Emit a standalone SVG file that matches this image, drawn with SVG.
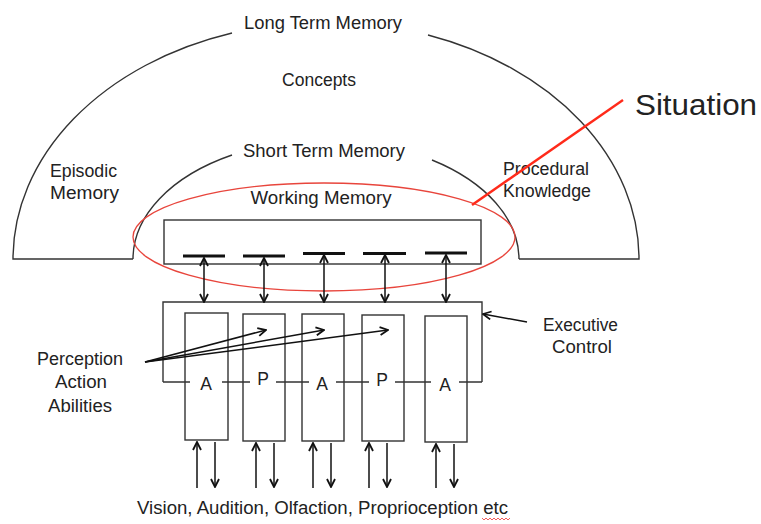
<svg xmlns="http://www.w3.org/2000/svg" width="761" height="524" viewBox="0 0 761 524">
<style>
  text { font-family: "Liberation Sans", Arial, sans-serif; fill: #222; }
  .lbl { font-size: 17.5px; }
  .mid { text-anchor: middle; }
  .shape { fill: none; stroke: #333; stroke-width: 1.4; }
  .arrow { fill: none; stroke: #111; stroke-width: 1.5; }
  .bar { stroke: #111; stroke-width: 3; }
</style>
<defs>
  <marker id="head" viewBox="0 0 10 10" refX="9" refY="5" markerWidth="10" markerHeight="10" markerUnits="userSpaceOnUse" orient="auto-start-reverse">
    <path d="M1,1 L9,5 L1,9" fill="none" stroke="#111" stroke-width="1.8"/>
  </marker>
</defs>
<rect width="761" height="524" fill="#fff"/>

<g id="long-term-memory">
  <path class="shape" d="M232,33 A313,237 0 0,0 13,259 H133 M519,259 H639 A313,237 0 0,0 428,35"/>
  <text class="lbl mid" x="323" y="29" textLength="158" lengthAdjust="spacingAndGlyphs">Long Term Memory</text>
  <text class="lbl mid" x="319" y="86" textLength="74" lengthAdjust="spacingAndGlyphs">Concepts</text>
  <text class="lbl" x="50" y="177" textLength="67" lengthAdjust="spacingAndGlyphs">Episodic</text>
  <text class="lbl" x="50" y="199" textLength="69" lengthAdjust="spacingAndGlyphs">Memory</text>
  <text class="lbl" x="503" y="175" textLength="86" lengthAdjust="spacingAndGlyphs">Procedural</text>
  <text class="lbl" x="503" y="197" textLength="88" lengthAdjust="spacingAndGlyphs">Knowledge</text>
</g>

<g id="short-term-memory">
  <path class="shape" d="M232,155 A193,119 0 0,0 133,259 M519,259 A193,119 0 0,0 432,160"/>
  <text class="lbl mid" x="324" y="157" textLength="162" lengthAdjust="spacingAndGlyphs">Short Term Memory</text>
</g>

<g id="working-memory">
  <text class="lbl mid" x="321" y="204" textLength="141" lengthAdjust="spacingAndGlyphs">Working Memory</text>
  <rect class="shape" x="164" y="220" width="317" height="44"/>
  <line class="bar" x1="183" y1="256" x2="225" y2="256"/>
  <line class="bar" x1="243" y1="256" x2="285" y2="256"/>
  <line class="bar" x1="303" y1="253.5" x2="345" y2="253.5"/>
  <line class="bar" x1="363" y1="253.5" x2="406" y2="253.5"/>
  <line class="bar" x1="425" y1="253" x2="467" y2="253"/>
</g>

<g id="situation">
  <ellipse cx="324" cy="237" rx="191" ry="54" fill="none" stroke="#e8453c" stroke-width="1.3"/>
  <line x1="472" y1="205" x2="623" y2="100" stroke="#ff2a1a" stroke-width="2.5"/>
  <text x="635" y="115" font-size="30" textLength="122" lengthAdjust="spacingAndGlyphs">Situation</text>
</g>

<g id="executive-control">
  <path class="shape" d="M163,382 V302 H482 V382"/>
  <path class="shape" d="M163,382 H190 M222,382 H250 M276,382 H309 M336,382 H369 M395,382 H431 M459,382 H482"/>
  <text class="lbl" x="543" y="331" textLength="75" lengthAdjust="spacingAndGlyphs">Executive</text>
  <text class="lbl" x="552" y="353" textLength="60" lengthAdjust="spacingAndGlyphs">Control</text>
</g>

<g id="ability-1">
  <rect class="shape" x="185" y="313" width="43" height="127" fill="none"/>
  <text class="lbl mid" x="206" y="390">A</text>
</g>
<g id="ability-2">
  <rect class="shape" x="243" y="314" width="42" height="127"/>
  <text class="lbl mid" x="263" y="385">P</text>
</g>
<g id="ability-3">
  <rect class="shape" x="302" y="314" width="42" height="127"/>
  <text class="lbl mid" x="322" y="390">A</text>
</g>
<g id="ability-4">
  <rect class="shape" x="362" y="315" width="42" height="126"/>
  <text class="lbl mid" x="382" y="386">P</text>
</g>
<g id="ability-5">
  <rect class="shape" x="425" y="316" width="42" height="126"/>
  <text class="lbl mid" x="445" y="391">A</text>
</g>

<g id="perception-label">
  <text class="lbl mid" x="80" y="365" textLength="86" lengthAdjust="spacingAndGlyphs">Perception</text>
  <text class="lbl mid" x="81" y="388" textLength="52" lengthAdjust="spacingAndGlyphs">Action</text>
  <text class="lbl mid" x="80" y="412" textLength="64" lengthAdjust="spacingAndGlyphs">Abilities</text>
</g>

<g id="senses-label">
  <text class="lbl" x="137" y="514" textLength="371" lengthAdjust="spacingAndGlyphs">Vision, Audition, Olfaction, Proprioception etc</text>
  <path d="M482,518 l2,2 l2,-2 l2,2 l2,-2 l2,2 l2,-2 l2,2 l2,-2 l2,2 l2,-2 l2,2 l2,-2 l2,2 l2,-2" fill="none" stroke="#e33" stroke-width="0.8"/>
</g>

<g id="connectors">
  <line class="arrow" x1="204" y1="258" x2="204" y2="302" marker-start="url(#head)" marker-end="url(#head)"/>
  <line class="arrow" x1="264" y1="258" x2="264" y2="302" marker-start="url(#head)" marker-end="url(#head)"/>
  <line class="arrow" x1="324" y1="255" x2="324" y2="302" marker-start="url(#head)" marker-end="url(#head)"/>
  <line class="arrow" x1="385" y1="255" x2="385" y2="302" marker-start="url(#head)" marker-end="url(#head)"/>
  <line class="arrow" x1="446" y1="255" x2="446" y2="302" marker-start="url(#head)" marker-end="url(#head)"/>

  <line class="arrow" x1="145" y1="362" x2="266" y2="330" marker-end="url(#head)"/>
  <line class="arrow" x1="145" y1="362" x2="324" y2="330" marker-end="url(#head)"/>
  <line class="arrow" x1="145" y1="362" x2="388" y2="330" marker-end="url(#head)"/>

  <line class="arrow" x1="527" y1="322" x2="483" y2="314" marker-end="url(#head)"/>

  <line class="arrow" x1="197" y1="488" x2="197" y2="442" marker-end="url(#head)"/>
  <line class="arrow" x1="215" y1="442" x2="215" y2="487" marker-end="url(#head)"/>
  <line class="arrow" x1="256" y1="488" x2="256" y2="443" marker-end="url(#head)"/>
  <line class="arrow" x1="274" y1="443" x2="274" y2="487" marker-end="url(#head)"/>
  <line class="arrow" x1="313" y1="488" x2="313" y2="443" marker-end="url(#head)"/>
  <line class="arrow" x1="331" y1="443" x2="331" y2="487" marker-end="url(#head)"/>
  <line class="arrow" x1="369" y1="488" x2="369" y2="443" marker-end="url(#head)"/>
  <line class="arrow" x1="387" y1="443" x2="387" y2="487" marker-end="url(#head)"/>
  <line class="arrow" x1="436" y1="488" x2="436" y2="444" marker-end="url(#head)"/>
  <line class="arrow" x1="454" y1="444" x2="454" y2="487" marker-end="url(#head)"/>
</g>
</svg>
